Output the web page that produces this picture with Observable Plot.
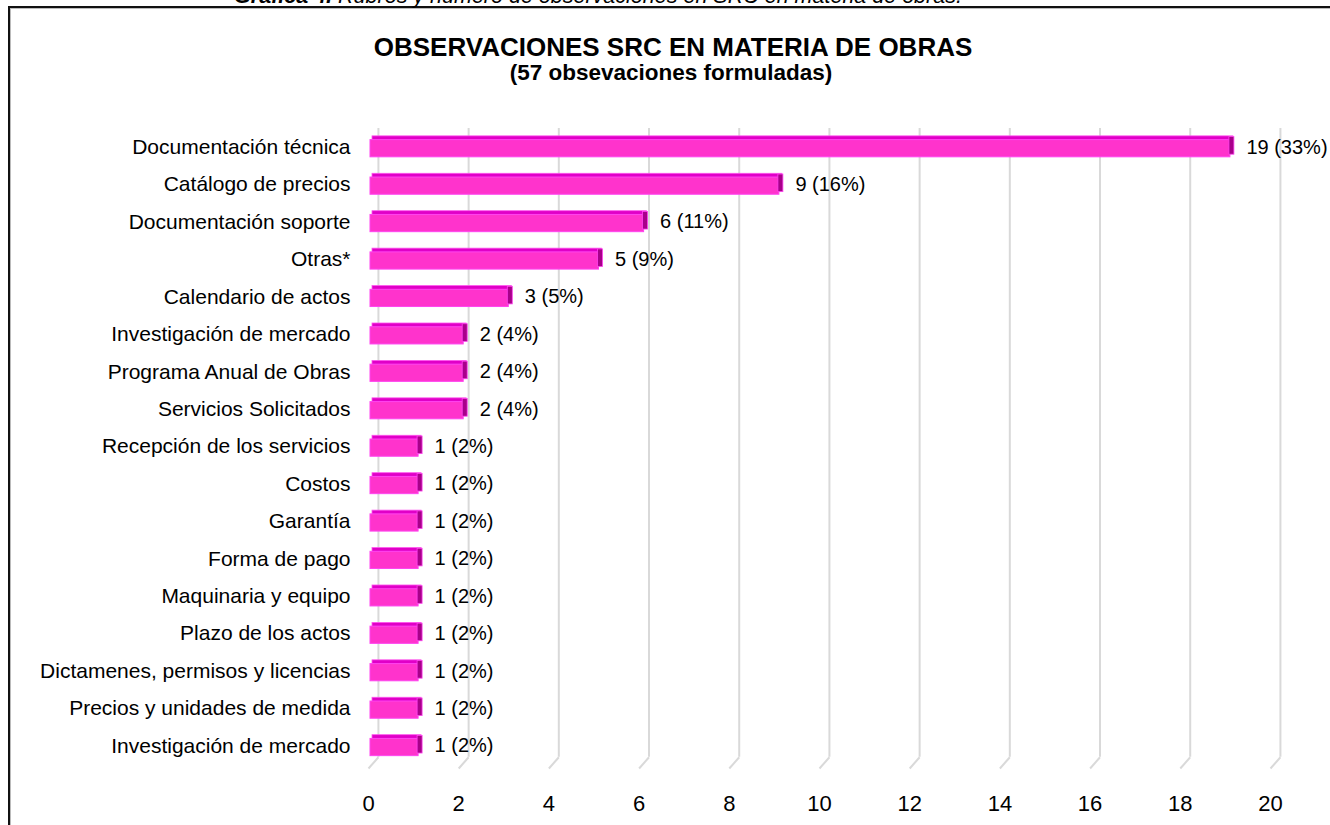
<!DOCTYPE html>
<html>
<head>
<meta charset="utf-8">
<script src="https://cdn.jsdelivr.net/npm/d3@7"></script>
<script src="https://cdn.jsdelivr.net/npm/@observablehq/plot@0.6"></script>
<style>
  html, body { margin: 0; padding: 0; background: #fff; }
  #wrap { position: relative; width: 1330px; height: 825px; overflow: hidden; font-family: "Liberation Sans", Arial, sans-serif; }
  #chart { position: absolute; left: 0; top: 0; }
  #frame { position: absolute; left: 8px; top: 6px; width: 1400px; height: 900px; border-left: 2.5px solid #111; border-top: 2.5px solid #111; box-shadow: inset 1px 1px 0 #bbb; }
  .txt { position: absolute; white-space: nowrap; color: #000; transform: translateX(-50%); }
  #caption { left: 598px; top: -14px; font-size: 21.5px; line-height: 20px; font-style: italic; }
  #title { left: 673px; top: 34px; font-size: 26px; line-height: 26px; font-weight: bold; }
  #subtitle { left: 671px; top: 62px; font-size: 22.5px; line-height: 22px; font-weight: bold; }
</style>
</head>
<body>
<div id="wrap">
  <div id="chart"></div>
  <div id="frame"></div>
  <div id="caption" class="txt"><b>Gráfica 4.</b> Rubros y número de observaciones en SRC en materia de obras.</div>
  <div id="title" class="txt">OBSERVACIONES SRC EN MATERIA DE OBRAS</div>
  <div id="subtitle" class="txt">(57 obsevaciones formuladas)</div>
</div>
<script>
const categories = [
  "Documentación técnica",
  "Catálogo de precios",
  "Documentación soporte",
  "Otras*",
  "Calendario de actos",
  "Investigación de mercado",
  "Programa Anual de Obras",
  "Servicios Solicitados",
  "Recepción de los servicios",
  "Costos",
  "Garantía",
  "Forma de pago",
  "Maquinaria y equipo",
  "Plazo de los actos",
  "Dictamenes, permisos y licencias",
  "Precios y unidades de medida",
  "Investigación de mercado"
];
const values = [19, 9, 6, 5, 3, 2, 2, 2, 1, 1, 1, 1, 1, 1, 1, 1, 1];
const percents = [33, 16, 11, 9, 5, 4, 4, 4, 2, 2, 2, 2, 2, 2, 2, 2, 2];
const xTicks = [0, 2, 4, 6, 8, 10, 12, 14, 16, 18, 20];

const rows = categories.map((c, i) => ({cat: c, idx: i, value: values[i], pct: percents[i]}));
const DEPTH = 0.22; // 3D wall depth in x units

const chart = Plot.plot({
  width: 1330,
  height: 825,
  marginLeft: 368,
  marginRight: 60,
  marginTop: 128,
  marginBottom: 57,
  style: {fontFamily: "'Liberation Sans', Arial, sans-serif", background: "#fff", color: "#000"},
  x: {domain: [0, 20], range: [368, 1270], label: null},
  y: {domain: [-0.5, 16.6], range: [128, 768], label: null},
  marks: [
    Plot.ruleX(xTicks, {x: d => d + DEPTH, y1: -0.5, y2: 16.3, stroke: "#d9d9d9", strokeWidth: 2}),
    Plot.link(xTicks, {x1: d => d + DEPTH, y1: 16.3, x2: d => d, y2: 16.6, stroke: "#d9d9d9", strokeWidth: 2}),
    // top face
    Plot.rect(rows, {x1: 0, x2: "value", y1: d => d.idx - 0.29, y2: d => d.idx - 0.17, dx: 4, insetRight: -4, fill: "#e000c8", stroke: "#ff55ee", strokeWidth: 0.8}),
    // front face
    Plot.rect(rows, {x1: 0, x2: "value", y1: d => d.idx - 0.19, y2: d => d.idx + 0.27, dx: 2, insetRight: -3, fill: "#ff33cc", stroke: "#ff44f0", strokeWidth: 1}),
    // side face
    Plot.rect(rows, {x1: "value", x2: "value", y1: d => d.idx - 0.27, y2: d => d.idx + 0.2, dx: 4, insetRight: -5, fill: "#a8008a", stroke: "#ff44f0", strokeWidth: 0.8}),
    Plot.text(rows, {x: "value", y: "idx", text: d => `${d.value} (${d.pct}%)`, dx: 21, textAnchor: "start", fontSize: 20, fill: "#000"}),
    Plot.axisY(d3.range(categories.length), {anchor: "left", label: null, tickFormat: i => categories[i], tickSize: 0, tickPadding: 18, fontSize: 21, fill: "#000"}),
    Plot.axisX(xTicks, {anchor: "bottom", label: null, tickSize: 0, tickPadding: 27, fontSize: 22, fill: "#000"})
  ]
});
document.getElementById("chart").appendChild(chart);
</script>
</body>
</html>
